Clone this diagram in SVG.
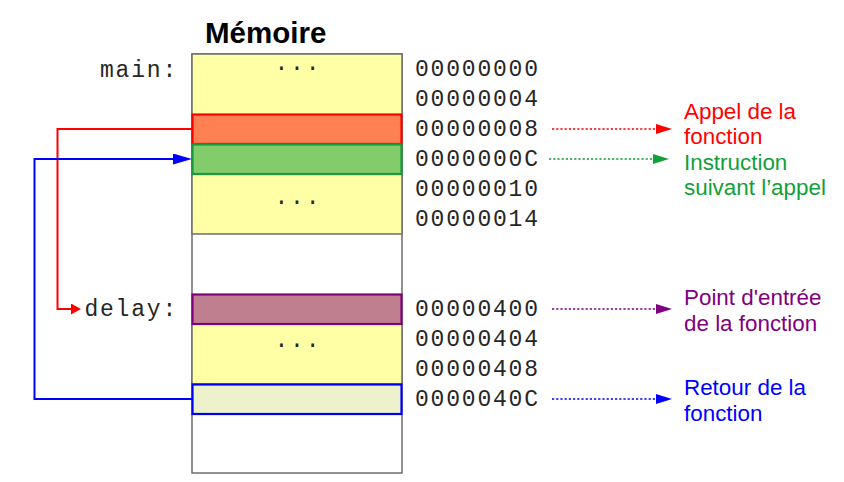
<svg xmlns="http://www.w3.org/2000/svg" width="844" height="482" viewBox="0 0 844 482">
<defs>
<style>
.mono{font-family:"Liberation Mono","Courier New",monospace;font-size:23px;letter-spacing:1.8px;fill:#262626}
.lbl{font-family:"Liberation Sans",Arial,sans-serif;font-size:22.4px}
.title{font-family:"Liberation Sans",Arial,sans-serif;font-size:29.5px;font-weight:bold;fill:#000}
.dot{fill:none;stroke-width:1.6;stroke-dasharray:2.2 2}
.conn{fill:none;stroke-width:2}
</style>
<marker id="aR" viewBox="0 0 16 10" refX="0" refY="5" markerWidth="16" markerHeight="10" markerUnits="userSpaceOnUse" orient="auto"><path d="M0,0 L16,5 L0,10 Z" fill="#ff0000"/></marker>
<marker id="aG" viewBox="0 0 16 10" refX="0" refY="5" markerWidth="16" markerHeight="10" markerUnits="userSpaceOnUse" orient="auto"><path d="M0,0 L16,5 L0,10 Z" fill="#12a03a"/></marker>
<marker id="aP" viewBox="0 0 16 10" refX="0" refY="5" markerWidth="16" markerHeight="10" markerUnits="userSpaceOnUse" orient="auto"><path d="M0,0 L16,5 L0,10 Z" fill="#800080"/></marker>
<marker id="aB" viewBox="0 0 16 10" refX="0" refY="5" markerWidth="16" markerHeight="10" markerUnits="userSpaceOnUse" orient="auto"><path d="M0,0 L16,5 L0,10 Z" fill="#0000ff"/></marker>
<marker id="aRs" viewBox="0 0 10 11" refX="0" refY="5.5" markerWidth="10" markerHeight="11" markerUnits="userSpaceOnUse" orient="auto"><path d="M0,0 L10,5.5 L0,11 Z" fill="#ff0000"/></marker>
<marker id="aBl" viewBox="0 0 19 11" refX="0" refY="5.5" markerWidth="19" markerHeight="11" markerUnits="userSpaceOnUse" orient="auto"><path d="M0,0 L19,5.5 L0,11 Z" fill="#0000ff"/></marker>
</defs>
<rect width="844" height="482" fill="#ffffff"/>

<g id="title"><text class="title" x="205" y="43">Mémoire</text></g>

<g id="memory">
<rect x="192" y="54" width="210" height="419" fill="#ffffff" stroke="#6e6e6e" stroke-width="1.5"/>
<rect x="192" y="54" width="210" height="180" fill="#ffffa6" stroke="#6e6e6e" stroke-width="1.5"/>
<rect x="192" y="324" width="210" height="60" fill="#ffffa6" stroke="#6e6e6e" stroke-width="1.5"/>
</g>
<g id="row-main-top"><text class="mono" x="297.9" y="70" text-anchor="middle">...</text></g>
<g id="row-call"><rect x="192.5" y="114.5" width="209" height="29.5" fill="#ff8052" stroke="#ff0000" stroke-width="2.2"/></g>
<g id="row-next"><rect x="192.5" y="144.5" width="209" height="29.5" fill="#82cc6b" stroke="#179a3a" stroke-width="2.2"/></g>
<g id="row-main-rest"><text class="mono" x="297.9" y="204" text-anchor="middle">...</text></g>
<g id="row-entry"><rect x="192.5" y="294.5" width="209" height="29.5" fill="#bf7f8f" stroke="#800080" stroke-width="2.2"/></g>
<g id="row-delay-body"><text class="mono" x="297.9" y="347" text-anchor="middle">...</text></g>
<g id="row-return"><rect x="192.5" y="384.5" width="209" height="29.5" fill="#edf2cc" stroke="#0000ff" stroke-width="2.2"/></g>

<g id="symbols">
<text class="mono" x="178" y="77" text-anchor="end">main:</text>
<text class="mono" x="178" y="316" text-anchor="end">delay:</text>
</g>

<g id="addresses">
<text class="mono" x="415" y="76">00000000</text>
<text class="mono" x="415" y="106">00000004</text>
<text class="mono" x="415" y="136">00000008</text>
<text class="mono" x="415" y="166">0000000C</text>
<text class="mono" x="415" y="196">00000010</text>
<text class="mono" x="415" y="226">00000014</text>
<text class="mono" x="415" y="316">00000400</text>
<text class="mono" x="415" y="346">00000404</text>
<text class="mono" x="415" y="376">00000408</text>
<text class="mono" x="415" y="406">0000040C</text>
</g>

<g id="label-call"><text class="lbl" fill="#ff0000"><tspan x="684" y="119">Appel de la</tspan><tspan x="684" y="144">fonction</tspan></text></g>
<g id="label-next"><text class="lbl" fill="#12a03a"><tspan x="684" y="170">Instruction</tspan><tspan x="684" y="195">suivant l’appel</tspan></text></g>
<g id="label-entry"><text class="lbl" fill="#800080"><tspan x="684" y="305">Point d'entrée</tspan><tspan x="684" y="331">de la fonction</tspan></text></g>
<g id="label-return"><text class="lbl" fill="#0000ff"><tspan x="684" y="395">Retour de la</tspan><tspan x="684" y="421">fonction</tspan></text></g>

<g id="connectors">
<line class="dot" x1="552" y1="129" x2="656" y2="129" stroke="#ff0000" marker-end="url(#aR)"/>
<line class="dot" x1="549" y1="159" x2="653" y2="159" stroke="#12a03a" marker-end="url(#aG)"/>
<line class="dot" x1="552" y1="309" x2="656" y2="309" stroke="#800080" marker-end="url(#aP)"/>
<line class="dot" x1="552" y1="399" x2="656" y2="399" stroke="#0000ff" marker-end="url(#aB)"/>
<path class="conn" d="M192,129 H57.5 V309 H71" stroke="#ff0000" marker-end="url(#aRs)"/>
<path class="conn" d="M192,399 H34.5 V159 H173" stroke="#0000ff" marker-end="url(#aBl)"/>
</g>
</svg>
